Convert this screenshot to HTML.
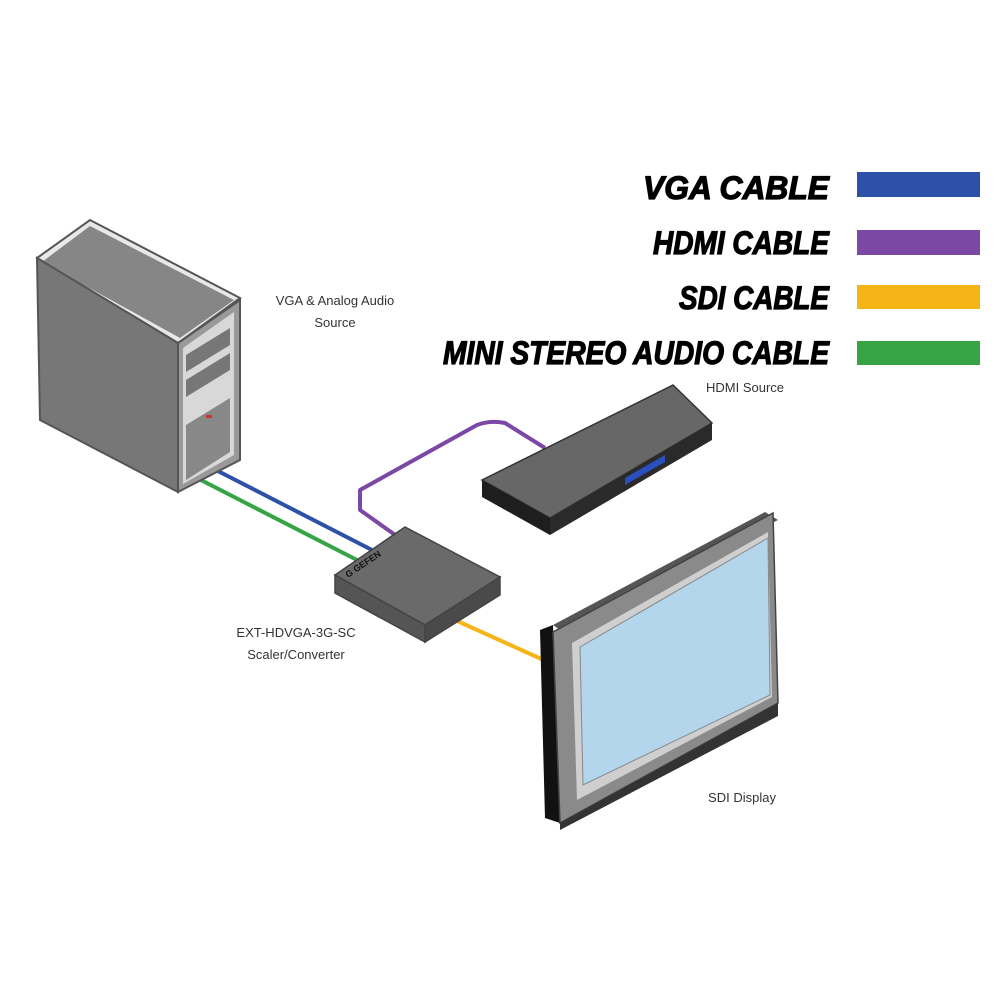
<!DOCTYPE html>
<html><head><meta charset="utf-8"><style>
html,body{margin:0;padding:0;background:#fff;}
svg{display:block}
.lg{font-family:"Liberation Sans",sans-serif;font-weight:bold;font-style:italic;font-size:32px;fill:#000;stroke:#000;stroke-width:1.2px;}
.lb{font-family:"Liberation Sans",sans-serif;font-size:13px;fill:#333;}
</style></head><body>
<svg width="1000" height="1000" viewBox="0 0 1000 1000" xmlns="http://www.w3.org/2000/svg">
<!-- legend -->
<text class="lg" x="829" y="199" text-anchor="end" textLength="186" lengthAdjust="spacingAndGlyphs">VGA CABLE</text>
<text class="lg" x="829" y="254" text-anchor="end" textLength="176" lengthAdjust="spacingAndGlyphs">HDMI CABLE</text>
<text class="lg" x="829" y="309" text-anchor="end" textLength="150" lengthAdjust="spacingAndGlyphs">SDI CABLE</text>
<text class="lg" x="829" y="364" text-anchor="end" textLength="386" lengthAdjust="spacingAndGlyphs">MINI STEREO AUDIO CABLE</text>
<rect x="857" y="172" width="123" height="25" fill="#2d50a8"/>
<rect x="857" y="230" width="123" height="25" fill="#7c48a6"/>
<rect x="857" y="285" width="123" height="24" fill="#f6b516"/>
<rect x="857" y="341" width="123" height="24" fill="#36a445"/>

<!-- cables -->
<path d="M212,468 L372,550" stroke="#2d50a8" stroke-width="4" fill="none"/>
<path d="M197,478 L357,560" stroke="#36a445" stroke-width="4" fill="none"/>
<path d="M398,537 L360,510 L360,490 L477,425 Q490,420 505,423 L545,448" stroke="#7c48a6" stroke-width="4" fill="none" stroke-linejoin="round"/>
<path d="M455,620 L548,662" stroke="#f6b516" stroke-width="4" fill="none"/>

<!-- computer tower -->
<polygon points="37,258 90,220 240,298 178,343" fill="#e8e8e8" stroke="#555" stroke-width="2"/>
<polygon points="42,262 90,226 234,300 180,338" fill="#868686"/>
<polygon points="37,258 178,343 178,492 40,420" fill="#777" stroke="#555" stroke-width="2"/>
<polygon points="178,343 240,300 240,460 178,492" fill="#999" stroke="#555" stroke-width="2"/>
<polygon points="183,348 234,312 234,455 183,484" fill="#d8d8d8"/>
<polygon points="186,355 230,328 230,345 186,372" fill="#777"/>
<polygon points="186,380 230,353 230,370 186,397" fill="#777"/>
<polygon points="186,425 230,398 230,452 186,480" fill="#888"/>
<rect x="206" y="415" width="6" height="3" fill="#c33"/>

<!-- converter -->
<polygon points="335,575 405,527 500,577 425,625" fill="#6a6a6a" stroke="#444" stroke-width="1.5"/>
<polygon points="335,575 425,625 425,642 335,593" fill="#555" stroke="#444" stroke-width="1.5"/>
<polygon points="425,625 500,577 500,595 425,642" fill="#4a4a4a" stroke="#444" stroke-width="1.5"/>
<text x="348" y="578" font-family="Liberation Sans,sans-serif" font-size="9" font-weight="bold" fill="#111" transform="rotate(-34 348 578)">G GEFEN</text>

<!-- HDMI source -->
<polygon points="482,480 673,385 712,423 550,518" fill="#676767" stroke="#333" stroke-width="1.5"/>
<polygon points="482,480 550,518 550,535 482,497" fill="#1e1e1e"/>
<polygon points="550,518 712,423 712,440 550,535" fill="#2a2a2a"/>
<polygon points="625,478 665,455 665,462 625,485" fill="#2b4fbf"/>

<!-- monitor -->
<polygon points="540,630 553,625 560,823 545,818" fill="#111"/>
<polygon points="553,625 765,512 778,520 560,630" fill="#555"/>
<polygon points="553,632 773,513 778,703 560,823" fill="#8a8a8a" stroke="#444" stroke-width="1.5"/>
<polygon points="572,643 768,532 772,697 577,800" fill="#cfcfcf"/>
<polygon points="580,647 768,538 770,695 583,785" fill="#b3d6ec" stroke="#888" stroke-width="1"/>
<polygon points="560,823 778,703 778,716 560,830" fill="#333"/>

<!-- labels -->
<text class="lb" x="335" y="305" text-anchor="middle">VGA &amp; Analog Audio</text>
<text class="lb" x="335" y="327" text-anchor="middle">Source</text>
<text class="lb" x="745" y="392" text-anchor="middle">HDMI Source</text>
<text class="lb" x="296" y="637" text-anchor="middle">EXT-HDVGA-3G-SC</text>
<text class="lb" x="296" y="659" text-anchor="middle">Scaler/Converter</text>
<text class="lb" x="742" y="802" text-anchor="middle">SDI Display</text>
</svg>
</body></html>
